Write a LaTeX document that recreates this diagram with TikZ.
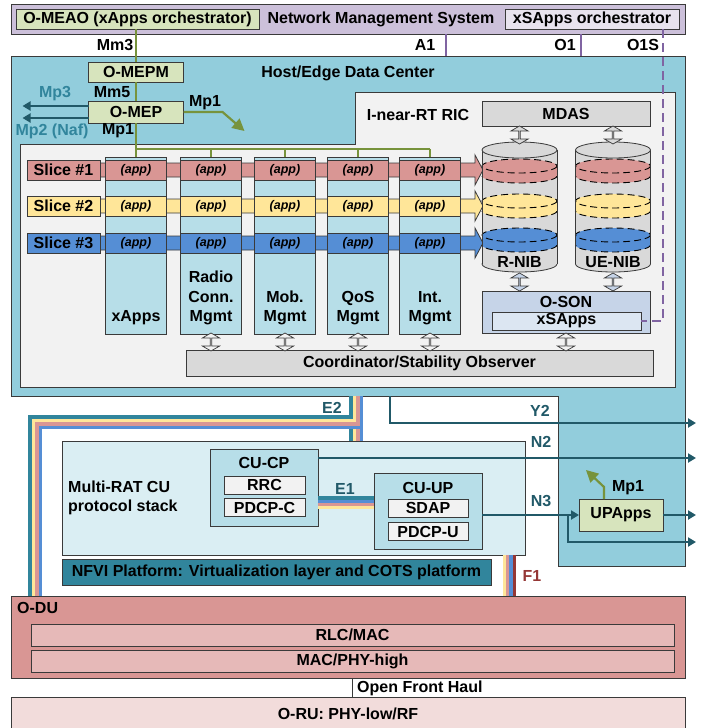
\documentclass[tikz,border=0pt]{standalone}
\usepackage{fontspec}
\setmainfont{Liberation Sans}
\usepackage{tikz}
\usetikzlibrary{arrows.meta,shapes.arrows}

\definecolor{nmspurple}{HTML}{CCC0DA}
\definecolor{mecgreen}{HTML}{D7E4BD}
\definecolor{hostblue}{HTML}{92CDDC}
\definecolor{ricgrey}{HTML}{F2F2F2}
\definecolor{colblue}{HTML}{B7DEE8}
\definecolor{boxgrey}{HTML}{D9D9D9}
\definecolor{sonblue}{HTML}{C6D4E8}
\definecolor{sonlight}{HTML}{DCE6F2}
\definecolor{slicered}{HTML}{D99694}
\definecolor{sliceyel}{HTML}{FFE699}
\definecolor{sliceblu}{HTML}{558ED5}
\definecolor{linegreen}{HTML}{77933C}
\definecolor{linepurple}{HTML}{8064A2}
\definecolor{tealdark}{HTML}{215968}
\definecolor{tealmid}{HTML}{31859C}
\definecolor{cuback}{HTML}{DAEEF3}
\definecolor{odulight}{HTML}{E6B9B8}
\definecolor{orupink}{HTML}{F2DCDB}
\definecolor{f1brown}{HTML}{953735}
\definecolor{edge}{HTML}{3A3A3A}

\newcommand\labf{\fontsize{16}{19.5}\selectfont\bfseries}
\newcommand\appf{\fontsize{12.5}{14}\selectfont\bfseries\itshape}

\tikzset{
  box/.style={draw=edge, line width=0.8pt, inner sep=0pt, outer sep=0pt, font=\labf},
  txt/.style={inner sep=0pt, font=\labf},
  appbox/.style={box, minimum width=61pt, minimum height=20pt, font=\appf},
  mline/.style={linegreen, line width=1.6pt},
  pline/.style={linepurple, line width=1.4pt},
  tline/.style={tealdark, line width=2.4pt},
  tarrow/.style={tline, -{Triangle[length=8pt,width=9pt]}},
  garrow/.style={linegreen, line width=2.2pt, -{Triangle[length=12pt,width=12pt]}},
  dbl/.style={double arrow, shape border rotate=90, draw=edge, line width=0.7pt,
    minimum height=18pt, minimum width=17pt, double arrow head extend=4pt,
    double arrow tip angle=120, inner sep=0pt},
  dashring/.style={black, line width=0.9pt, dash pattern=on 7pt off 4pt},
}

\begin{document}
\begin{tikzpicture}[x=1pt,y=-1pt]
\clip (0,0) rectangle (703,728);

% =========================
% NETWORK MANAGEMENT SYSTEM
% =========================
\node[box, fill=nmspurple, minimum width=674, minimum height=30] (nms) at (348,19) {};
\node[box, fill=mecgreen, minimum width=243, minimum height=20] (meao) at (137.5,19) {O-MEAO (xApps orchestrator)};
\node[txt] (nmsname) at (381,19) {Network Management System};
\node[box, fill=nmspurple!45, minimum width=174, minimum height=20] (xso) at (592,19) {xSApps orchestrator};

% =========================
% HOST / EDGE DATA CENTER
% =========================
\node[fill=hostblue, minimum width=674, minimum height=340, inner sep=0pt, outer sep=0pt] (host) at (348,226) {};
\fill[hostblue] (558,390) rectangle (685,566);
\draw[edge, line width=0.8pt] (11,56) -- (685,56) -- (685,566) -- (558,566) -- (558,396) -- (11,396) -- cycle;
\node[txt] (hosttitle) at (348,73) {Host/Edge Data Center};

\node[box, fill=mecgreen, minimum width=95, minimum height=20] (mepm) at (136,72) {O-MEPM};
\node[box, fill=mecgreen, minimum width=95, minimum height=22] (mep) at (136,112) {O-MEP};

% I-near-RT RIC
\filldraw[fill=ricgrey, draw=edge, line width=0.8pt]
  (20,144) -- (355,144) -- (355,92) -- (675,92) -- (675,387) -- (20,387) -- cycle;
\node[txt] (rictitle) at (418,115) {I-near-RT RIC};

% columns
\foreach \x [count=\i] in {136,211,285,358,430}
  \node[box, fill=colblue, minimum width=61, minimum height=177] (c\i) at (\x,245.5) {};
\node[txt] (lx1) at (136,318) {xApps};
\node[txt, align=center] (lx2) at (211,298) {Radio\\Conn.\\Mgmt};
\node[txt, align=center] (lx3) at (285,308) {Mob.\\Mgmt};
\node[txt, align=center] (lx4) at (358,308) {QoS\\Mgmt};
\node[txt, align=center] (lx5) at (430,308) {Int.\\Mgmt};

% Mm3 / Mm5 / Mp1 reference points
\draw[mline] (meao.south -| mepm.north) -- (mepm.north);
\draw[mline] (mepm.south) -- (mep.north);
\draw[mline] (mep.south) -- (c1.north);
\coordinate (bus) at (0,149);
\draw[mline] (c1.north |- bus) -- (c5.north |- bus);
\foreach \i in {2,...,5}
  \draw[mline] (c\i.north |- bus) -- (c\i.north);

\node[txt] (mm3) at (115,45) {Mm3};
\node[txt] (mm5) at (112,92) {Mm5};
\node[txt] (mp1a) at (118,131) {Mp1};
\node[txt] (mp1b) at (205,103) {Mp1};
\draw[garrow] (mep.east) -- ++(39,0) -- ++(22,19);

\draw[tarrow] ([yshift=6pt]mep.west) -- ++(-66,0);
\draw[tarrow] ([yshift=-6pt]mep.west) -- ++(-66,0);
\node[txt, text=tealmid] (mp3) at (55,94) {Mp3};
\node[txt, text=tealmid] (mp2) at (52,131) {Mp2 (Naf)};

% slices
\foreach \n/\y/\c in {1/170/slicered, 2/206/sliceyel, 3/243/sliceblu} {
  \filldraw[fill=\c, draw=edge, line width=0.8pt]
    (100,\y-7) -- (475,\y-7) -- (475,\y-15) -- (483,\y) -- (475,\y+15) -- (475,\y+7) -- (100,\y+7) -- cycle;
  \node[box, fill=\c, minimum width=73, minimum height=20] (sl\n) at (63.5,\y) {Slice \#\n};
  \foreach \x [count=\i] in {136,211,285,358,430}
    \node[appbox, fill=\c] (a\n\i) at (\x,\y) {(app)};
}

% R-NIB and UE-NIB
\foreach \cx/\nm/\lab in {519.5/rnib/R-NIB, 613/uenib/UE-NIB} {
  \filldraw[fill=boxgrey, draw=edge, line width=0.8pt] (\cx,264) ellipse [x radius=37.5, y radius=8];
  \fill[boxgrey] (\cx-37.5,150) rectangle (\cx+37.5,264);
  \foreach \yt/\c in {166/slicered, 201/sliceyel, 235/sliceblu} {
    \fill[\c] (\cx,\yt) ellipse [x radius=37.5, y radius=7];
    \fill[\c] (\cx-37.5,\yt) rectangle (\cx+37.5,\yt+10);
    \fill[\c] (\cx,\yt+10) ellipse [x radius=37.5, y radius=7];
    \draw[dashring] (\cx,\yt) ellipse [x radius=37.5, y radius=7];
    \begin{scope}
      \clip (\cx-40,\yt+10) rectangle (\cx+40,\yt+20);
      \draw[dashring] (\cx,\yt+10) ellipse [x radius=37.5, y radius=7];
    \end{scope}
  }
  \draw[edge, line width=0.8pt] (\cx-37.5,150) -- (\cx-37.5,264) (\cx+37.5,150) -- (\cx+37.5,264);
  \filldraw[fill=boxgrey, draw=edge, line width=0.8pt] (\cx,150) ellipse [x radius=37.5, y radius=8];
  \node[txt] (\nm) at (\cx,262) {\lab};
}

\node[box, fill=boxgrey, minimum width=168, minimum height=25] (mdas) at (566,113.5) {MDAS};
\node[dbl, fill=boxgrey] (d1) at (519.5,135) {};
\node[dbl, fill=boxgrey] (d2) at (613,135) {};
\node[dbl, fill=sonblue] (d3) at (519.5,282) {};
\node[dbl, fill=sonblue] (d4) at (613,282) {};

\node[box, fill=sonblue, minimum width=168, minimum height=42] (oson) at (566,312) {};
\node[txt] (sontitle) at (566,302) {O-SON};
\node[box, fill=sonlight, minimum width=149, minimum height=18] (xsa) at (566.5,321) {xSApps};

\node[box, fill=boxgrey, minimum width=467, minimum height=26] (coord) at (419.5,363) {Coordinator/Stability Observer};
\foreach \x [count=\i] in {211,285,358,430,566}
  \node[dbl, fill=ricgrey] (dc\i) at (\x,342) {};

% A1 / O1 / O1S
\coordinate (a1) at (446,0);
\coordinate (o1) at (581,0);
\coordinate (o1s) at (663,0);
\draw[pline] (nms.south -| a1) -- (host.north -| a1);
\draw[pline] (nms.south -| o1) -- (host.north -| o1);
\draw[pline, dash pattern=on 9pt off 5pt] (xso.south -| o1s) -- (o1s |- xsa.east) -- (xsa.east);
\node[txt] (a1lab) at (425,45) {A1};
\node[txt] (o1lab) at (565,45) {O1};
\node[txt] (o1slab) at (643,45) {O1S};

% =========================
% CU PROTOCOL STACK
% =========================
\node[box, fill=cuback, minimum width=463, minimum height=114] (cu) at (293.5,498) {};
\node[txt, align=left, anchor=west] (cutitle) at (68,498) {Multi-RAT CU\\protocol stack};

\node[box, fill=colblue, minimum width=108, minimum height=77] (cucp) at (264,487.5) {};
\node[txt] (cucptitle) at (264,463) {CU-CP};
\node[box, fill=ricgrey, minimum width=81, minimum height=18] (rrc) at (264.5,485) {RRC};
\node[box, fill=ricgrey, minimum width=81, minimum height=18] (pdcpc) at (264.5,507.5) {PDCP-C};

\node[box, fill=colblue, minimum width=108, minimum height=76] (cuup) at (428,511) {};
\node[txt] (cuuptitle) at (428,488) {CU-UP};
\node[box, fill=ricgrey, minimum width=80, minimum height=18] (sdap) at (428,508) {SDAP};
\node[box, fill=ricgrey, minimum width=80, minimum height=18] (pdcpu) at (428,531.5) {PDCP-U};

\node[box, fill=tealmid, minimum width=429, minimum height=26] (nfvi) at (276.5,572)
  {NFVI Platform: Virtualization layer and COTS platform};

\node[box, fill=mecgreen, minimum width=84, minimum height=32] (upapps) at (621,515) {UPApps};

% E2 / E1 / F1 bundles
\foreach \c [count=\i from 0] in {tealmid, sliceyel, slicered, sliceblu} {
  \draw[\c, line width=3.4pt] (351+3.4*\i,396) -- (351+3.4*\i,441);
  \draw[\c, line width=3.4pt] (351+3.4*\i,396) -- (351+3.4*\i,417+3.4*\i) -- (30+3.4*\i,417+3.4*\i) -- (30+3.4*\i,596);
}
\foreach \c [count=\i from 0] in {tealmid, sliceblu, slicered, sliceyel}
  \draw[\c, line width=3.2pt] (318.4,498+3.2*\i) -- (373.6,498+3.2*\i);
\foreach \c [count=\i from 0] in {sliceyel, slicered, sliceblu, f1brown}
  \draw[\c, line width=3.3pt] (504.5+3.3*\i,555) -- (504.5+3.3*\i,596);

\node[txt, text=tealdark] (e2lab) at (332,408) {E2};
\node[txt, text=tealdark] (e1lab) at (345,489) {E1};
\node[txt, text=f1brown] (f1lab) at (532,576) {F1};

% Y2 / N2 / N3 interfaces
\coordinate (outr) at (696,0);
\coordinate (y2) at (390,423);
\coordinate (n3b) at (568,542);
\draw[tarrow] (host.south -| y2) -- (y2) -- (y2 -| outr);
\draw[tarrow] ([yshift=-9pt]cucp.north east) -- ++(378,0);
\draw[tarrow] (cuup.east |- upapps.west) -- (upapps.west);
\draw[tarrow] (n3b |- upapps.west) -- (n3b) -- (n3b -| outr);
\draw[tarrow] (upapps.east) -- (upapps.east -| outr);
\draw[garrow] ([xshift=-17pt]upapps.north) -- ++(0,-12) -- ++(-18,-17);

\node[txt, text=tealdark] (y2lab) at (540,411) {Y2};
\node[txt, text=tealdark] (n2lab) at (541,442) {N2};
\node[txt, text=tealdark] (n3lab) at (541,501) {N3};
\node[txt] (mp1c) at (628,488) {Mp1};

% =========================
% O-DU / O-RU
% =========================
\node[box, fill=slicered, minimum width=674, minimum height=82] (odu) at (348,637) {};
\node[txt, anchor=west] (odulab) at (17,608) {O-DU};
\node[box, fill=odulight, minimum width=643, minimum height=22] (rlc) at (352.5,635) {RLC/MAC};
\node[box, fill=odulight, minimum width=643, minimum height=22] (phyh) at (352.5,661) {MAC/PHY-high};

\node[box, fill=orupink, minimum width=674, minimum height=50] (oru) at (348,722) {};
\node[txt] (orulab) at (348,714) {O-RU: PHY-low/RF};

\coordinate (ofh) at (352,0);
\draw[edge, line width=1pt] (odu.south -| ofh) -- (oru.north -| ofh);
\node[txt, anchor=west] (ofhlab) at (357,688) {Open Front Haul};

\end{tikzpicture}
\end{document}
